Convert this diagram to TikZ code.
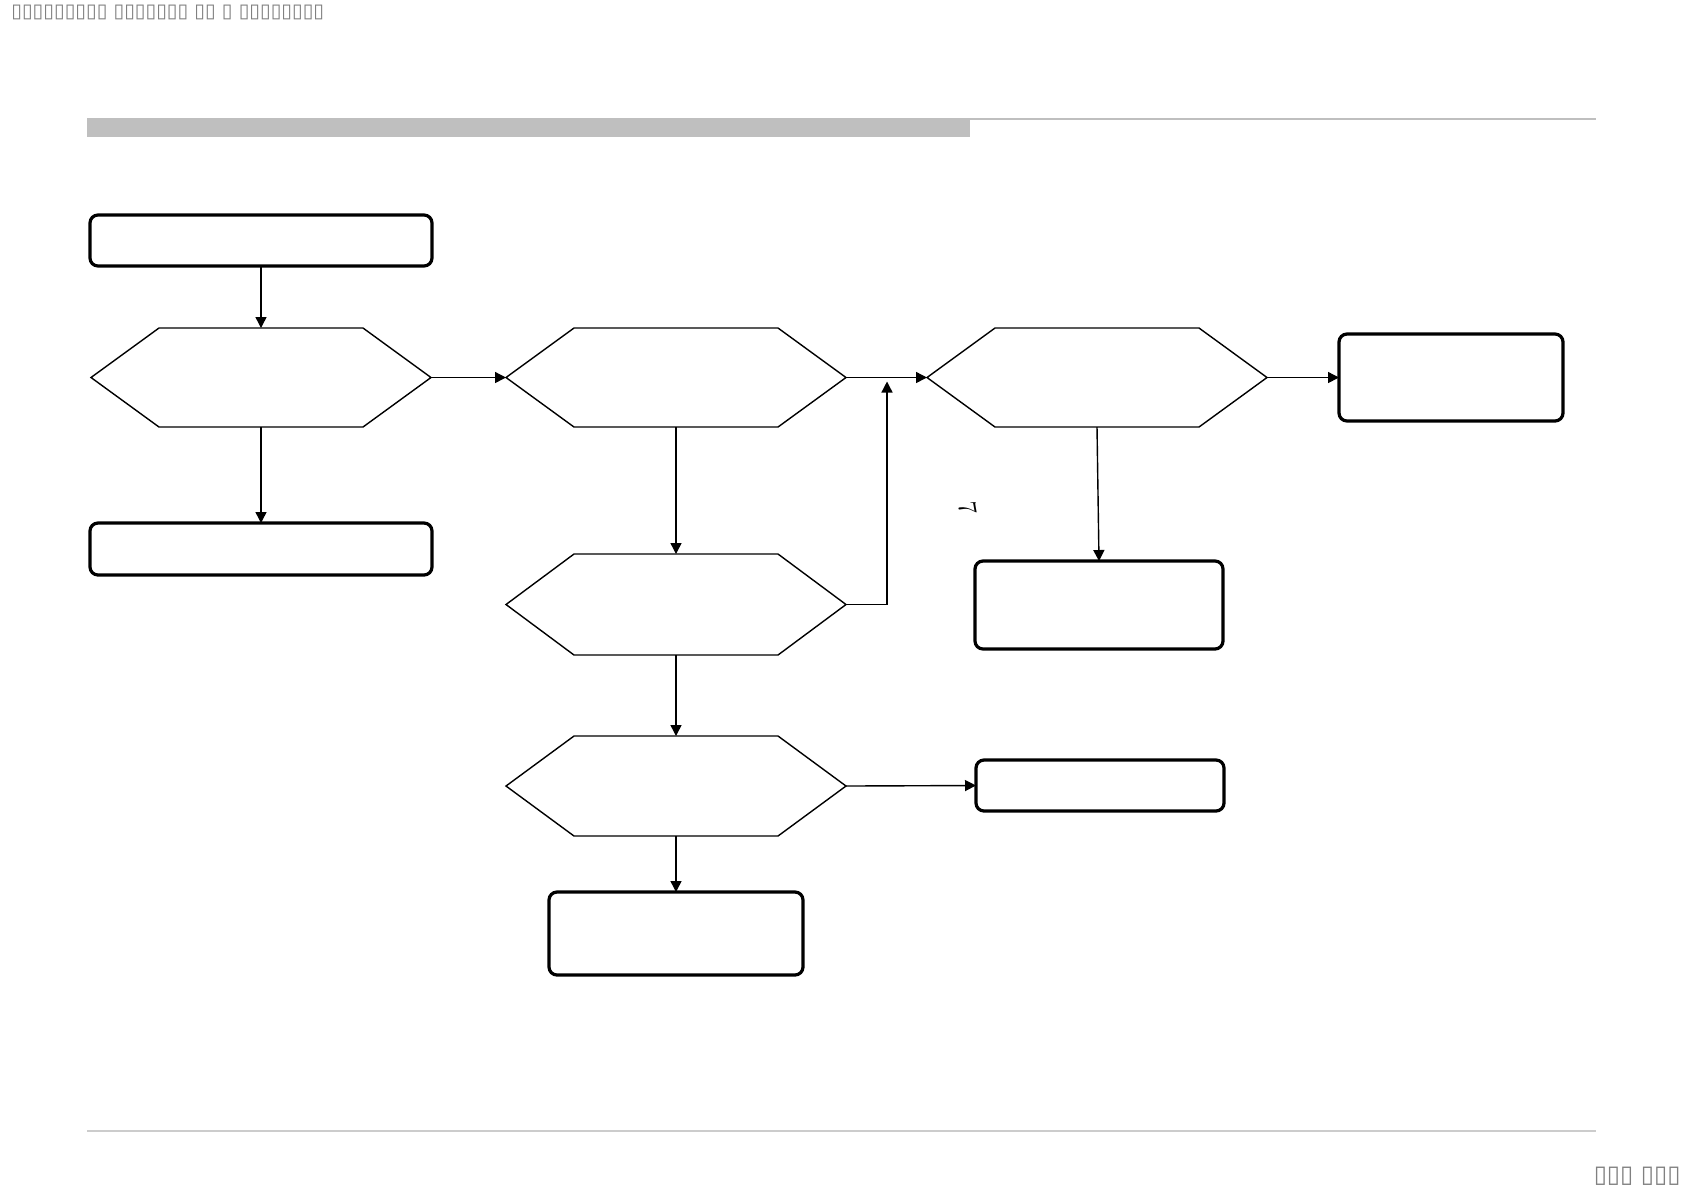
\documentclass[tikz,border=0pt]{standalone}
\usepackage{fontspec}
\newfontfamily\boxfont{DejaVu Sans}
\usetikzlibrary{arrows.meta,positioning,calc}

\begin{document}
\begin{tikzpicture}[
    x=0.5pt, y=-0.5pt,
    box/.style={rectangle, draw, line width=1.6pt, rounded corners=4pt, inner sep=0pt, outer sep=0pt},
    hexbox/.style={rectangle, inner sep=0pt, outer sep=0pt, minimum width=170pt, minimum height=49.5pt},
    hexline/.style={line width=0.7pt, line join=miter},
    arrow/.style={-{Triangle[length=5.5pt, width=5.5pt]}, line width=0.7pt},
    tofu/.style={font=\boxfont\fontsize{9.7}{9.7}\selectfont, text=black!50, inner sep=0pt}
]
\useasboundingbox (0,0) rectangle (1684,1191);

% Header and footer
\node[tofu, anchor=west] (title) at (11,12) {▯▯▯▯▯▯▯▯▯ ▯▯▯▯▯▯▯ ▯▯ ▯ ▯▯▯▯▯▯▯▯};
\node[tofu, font=\boxfont\fontsize{12}{12}\selectfont, anchor=east] (page) at (1681,1176) {▯▯▯ ▯▯▯};
\fill[black!25] (87,118) rectangle (970,137);
\draw[black!25, line width=1pt] (970,118.5) -- (1596,118.5);
\draw[black!20, line width=0.6pt] (87,1131) -- (1596,1131);

% Left column
\node[box, minimum width=171pt, minimum height=25.5pt] (start) at (261,240.5) {};
\node[hexbox] (hexI) at (261,377.5) {};
\node[box, minimum width=171pt, minimum height=26pt] (stopI) at (261,549) {};

% Middle column
\node[hexbox] (hexII) at (676,377.5) {};
\node[hexbox, minimum height=50.5pt] (hexIV) at (676,604.5) {};
\node[hexbox, minimum height=50pt] (hexV) at (676,786) {};
\node[box, minimum width=127pt, minimum height=41.5pt] (stopV) at (676,933.5) {};

% Right part
\node[hexbox] (hexIII) at (1097,377.5) {};
\node[box, minimum width=112pt, minimum height=43.5pt] (stopIII) at (1451,377.5) {};
\node[box, minimum width=124pt, minimum height=44pt] (stopD) at (1099,605) {};
\node[box, minimum width=124pt, minimum height=25.5pt] (stopE) at (1100,785.5) {};
\node[rotate=-80, font=\fontsize{13}{13}\selectfont, inner sep=0pt] (mark) at (968,508) {7};

% Hexagon outlines
\foreach \n in {hexI,hexII,hexIII,hexIV,hexV}
  \draw[hexline] (\n.west) -- ([xshift=34pt]\n.north west) -- ([xshift=-34pt]\n.north east)
    -- (\n.east) -- ([xshift=-34pt]\n.south east) -- ([xshift=34pt]\n.south west) -- cycle;

% Arrows
\coordinate (join) at (887,377.5);
\draw[arrow] (start) -- (hexI);
\draw[arrow] (hexI) -- (stopI);
\draw[arrow] (hexI.east) -- (hexII.west);
\draw[arrow] (hexII.east) -- (hexIII.west);
\draw[arrow] (hexIII.east) -- (stopIII.west);
\draw[arrow] (hexIII.south) -- (stopD.north);
\draw[arrow] (hexII.south) -- (hexIV.north);
\draw[arrow] (hexIV.east) -| ([yshift=-2pt]join);
\draw[arrow] (hexIV.south) -- (hexV.north);
\draw[arrow] (hexV.east) -- (stopE.west);
\draw[arrow] (hexV.south) -- (stopV.north);

\end{tikzpicture}
\end{document}
